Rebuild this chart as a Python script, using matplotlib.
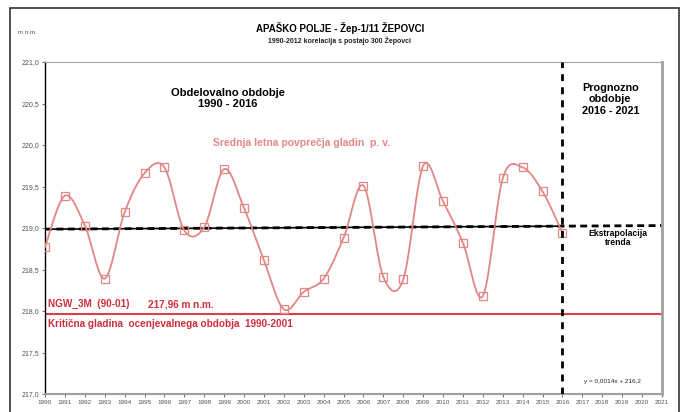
import matplotlib
matplotlib.use('Agg')
import matplotlib.pyplot as plt
import matplotlib.patches as patches
import numpy as np

plt.rcParams['font.family'] = ['Liberation Sans', 'DejaVu Sans']

# annual mean groundwater levels (m n.m.)
years = list(range(1990, 2017))
levels = [218.77, 219.39, 219.03, 218.39, 219.19, 219.66, 219.73, 218.97, 219.01,
          219.71, 219.24, 218.61, 218.02, 218.23, 218.39, 218.88, 219.51, 218.41,
          218.38, 219.75, 219.32, 218.82, 218.18, 219.60, 219.73, 219.44, 218.94]
critical_level = 217.96
trend_slope = 0.0014
trend_icept = 216.2
hist_end = 2016
forecast_end = 2021

curve_col = '#e38686'
red_col = '#d8404c'
text_red = '#cf2f3b'


def smooth(xs, ys, n=24):
    '''
    Excel-like smoothed line (bezier with control points from neighbours)
    '''
    p = np.column_stack([xs, ys]).astype(float)
    p = np.vstack([p[0], p, p[-1]])
    out = []
    t = np.linspace(0, 1, n)[:, None]
    for i in range(1, len(p) - 2):
        p0, p1, p2, p3 = p[i - 1], p[i], p[i + 1], p[i + 2]
        c1 = p1 + (p2 - p0) / 6.0
        c2 = p2 - (p3 - p1) / 6.0
        seg = ((1 - t) ** 3) * p1 + 3 * ((1 - t) ** 2) * t * c1 + 3 * (1 - t) * t ** 2 * c2 + t ** 3 * p2
        out.append(seg if i == 1 else seg[1:])
    out = np.vstack(out)
    return out[:, 0], out[:, 1]


fig = plt.figure(figsize=(6.84, 4.12), dpi=100)
ax = fig.add_axes([45 / 684, 1 - 394 / 412, 617 / 684, 332 / 412])

# outer frame
fig.patches.append(patches.Rectangle((10 / 684, -0.02), 669 / 684, 1 - 8 / 412 + 0.02,
                                     transform=fig.transFigure, fill=False,
                                     edgecolor='#333333', lw=1.2))

sx, sy = smooth(years, levels)
ax.plot(sx, sy, color=curve_col, lw=1.3, zorder=3)
ax.plot(years, levels, ls='none', marker='s', ms=5.5, mfc='none', mec=curve_col, mew=0.9, zorder=4)

# critical level
ax.axhline(critical_level, color=red_col, lw=1.5, zorder=2)

# trend and extrapolation
tx = np.array([1990, hist_end])
ax.plot(tx, trend_slope * tx + trend_icept, color='black', lw=1.2, zorder=2)
tx2 = np.array([1990, forecast_end])
ax.plot(tx2, trend_slope * tx2 + trend_icept, color='black', lw=2, ls=(0, (2.5, 1.6)), zorder=2)

# border between periods
ax.axvline(hist_end, color='black', lw=2, ls=(0, (2.5, 2.2)), zorder=5)

ax.set_xlim(1990, 2021)
ax.set_ylim(217, 221)
ax.set_xticks(range(1990, 2022))
ax.set_xticklabels([str(y) for y in range(1990, 2022)], fontsize=4.6, color='#555555')
yt = np.arange(217, 221.01, 0.5)
ax.set_yticks(yt)
ax.set_yticklabels([('%.1f' % v).replace('.', ',') for v in yt], fontsize=5, color='#555555')
ax.tick_params(axis='both', length=2.5, width=0.6, color='#555555', pad=1.5)

for s in ['top', 'right', 'bottom']:
    ax.spines[s].set_color('#a0a0a0')
ax.spines['left'].set_color('black')
ax.spines['left'].set_linewidth(1.0)
ax.spines['bottom'].set_linewidth(1.5)
ax.spines['right'].set_linewidth(2.0)
ax.spines['top'].set_linewidth(0.8)

# titles
fig.text(340 / 684, 1 - 28 / 412, 'APAŠKO POLJE - Žep-1/11 ŽEPOVCI', ha='center', va='center',
         fontsize=7, fontweight='bold')
fig.text(340 / 684, 1 - 41 / 412, '1990-2012 korelacija s postajo 300 Žepovci', ha='center',
         va='center', fontsize=5, fontweight='bold', color='#222222')
fig.text(18 / 684, 1 - 32 / 412, 'm n.m.', ha='left', va='center', fontsize=4.5, color='#555555')

# annotations
ax.text(1999.2, 220.56, 'Obdelovalno obdobje\n1990 - 2016', ha='center', va='center',
        fontsize=8, fontweight='bold', linespacing=1.1)
ax.text(2002.9, 220.02, 'Srednja letna povprečja gladin  p. v.', ha='center', va='center',
        fontsize=7.5, fontweight='bold', color=curve_col)
ax.text(2018.4, 220.55, 'Prognozno\nobdobje\n2016 - 2021', ha='center', va='center',
        fontsize=7.8, fontweight='bold', linespacing=1.15)
ax.text(2018.8, 218.88, 'Ekstrapolacija\ntrenda', ha='center', va='center',
        fontsize=6.2, fontweight='bold', linespacing=1.05)
ax.text(1990.15, 218.08, 'NGW_3M  (90-01)', ha='left', va='center',
        fontsize=7.2, fontweight='bold', color=text_red)
ax.text(1995.15, 218.08, '217,96 m n.m.', ha='left', va='center',
        fontsize=7.2, fontweight='bold', color=text_red)
ax.text(1990.15, 217.84, 'Kritična gladina  ocenjevalnega obdobja  1990-2001', ha='left', va='center',
        fontsize=7.2, fontweight='bold', color=text_red)
ax.text(2018.5, 217.15, 'y = 0,0014x + 216,2', ha='center', va='center', fontsize=4.6, color='#222222')

fig.savefig('out.png', dpi=100)
